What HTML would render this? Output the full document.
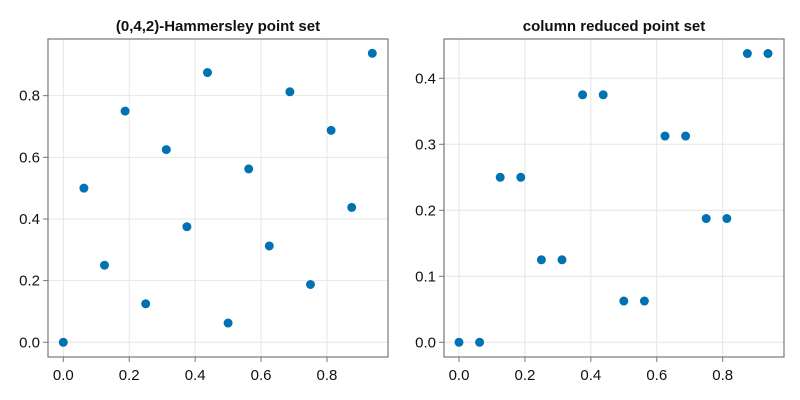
<!DOCTYPE html>
<html><head><meta charset="utf-8"><style>body{margin:0;background:#fff}svg{display:block;font-family:"Liberation Sans",sans-serif}</style></head>
<body>
<svg id="c" width="800" height="400"></svg>
<script>
const xs=[0,0.0625,0.125,0.1875,0.25,0.3125,0.375,0.4375,0.5,0.5625,0.625,0.6875,0.75,0.8125,0.875,0.9375];
const hamY=[0,0.5,0.25,0.75,0.125,0.625,0.375,0.875,0.0625,0.5625,0.3125,0.8125,0.1875,0.6875,0.4375,0.9375];
const redY=[0,0,0.25,0.25,0.125,0.125,0.375,0.375,0.0625,0.0625,0.3125,0.3125,0.1875,0.1875,0.4375,0.4375];
const xTicks=[0,0.2,0.4,0.6,0.8];
const leftYTicks=[0,0.2,0.4,0.6,0.8];
const rightYTicks=[0,0.1,0.2,0.3,0.4];
const NS='http://www.w3.org/2000/svg';
const svg=document.getElementById('c');
function mk(t,a,p){const e=document.createElementNS(NS,t);for(const k in a)e.setAttribute(k,a[k]);(p||svg).appendChild(e);return e;}
function panel(name,fx0,fx1,x0px,xs_,y0px,ys_,yt,title,ydata){
  const g=mk('g',{});
  
  
  const X=v=>x0px+v*xs_, Y=v=>y0px-v*ys_;
  const top=39,bot=357;
  xTicks.forEach(t=>{const l=mk('line',{x1:X(t),x2:X(t),y1:top,y2:bot,stroke:'#e6e6e6'},g);
    mk('line',{x1:X(t),x2:X(t),y1:bot,y2:bot+5,stroke:'#777'},g);
    const tx=mk('text',{x:X(t),y:bot+23,'text-anchor':'middle','font-size':15,fill:'#111'},g);tx.textContent=t.toFixed(1);
    });
  yt.forEach(t=>{const l=mk('line',{x1:fx0,x2:fx1,y1:Y(t),y2:Y(t),stroke:'#e6e6e6'},g);
    mk('line',{x1:fx0-5,x2:fx0,y1:Y(t),y2:Y(t),stroke:'#777'},g);
    const tx=mk('text',{x:fx0-8,y:Y(t)+5,'text-anchor':'end','font-size':15,fill:'#111'},g);tx.textContent=t.toFixed(1);
    });
  const fr=mk('rect',{x:fx0,y:top,width:fx1-fx0,height:bot-top,fill:'none',stroke:'#777','stroke-width':1.2},g);
  
  const ti=mk('text',{x:(fx0+fx1)/2,y:31,'text-anchor':'middle','font-size':15,'font-weight':'bold',fill:'#111'},g);ti.textContent=title;
  
  xs.forEach((v,i)=>{const c=mk('circle',{cx:X(v),cy:Y(ydata[i]),r:4.8,fill:'#0072b2',stroke:'#fff','stroke-width':0.6},g);
    });
}
panel('hammersley-panel',48,388,63.3,329.6,342.3,308.3,leftYTicks,'(0,4,2)-Hammersley point set',hamY);
panel('column-reduced-panel',444,784,459,329.6,342.3,660,rightYTicks,'column reduced point set',redY);
</script>
</body></html>
